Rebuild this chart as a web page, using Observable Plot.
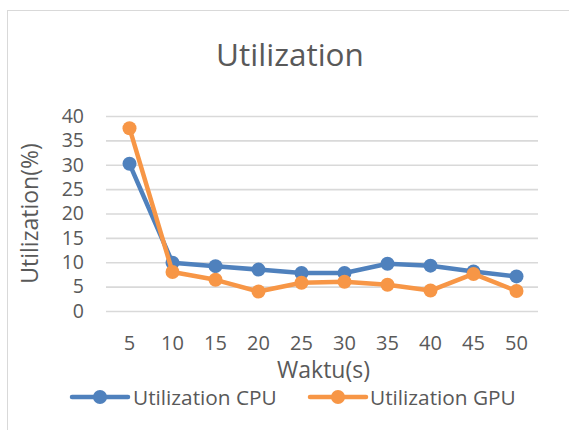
<!DOCTYPE html>
<html>
<head>
<meta charset="utf-8">
<script src="https://cdn.jsdelivr.net/npm/d3@7"></script>
<script src="https://cdn.jsdelivr.net/npm/@observablehq/plot@0.6"></script>
<style>
  html, body { margin: 0; padding: 0; background: #fff; }
  #wrap { position: relative; width: 569px; height: 430px; overflow: hidden; background: #fff; }
  #frame { position: absolute; left: 7px; top: 10px; width: 600px; height: 460px;
           border-left: 1.5px solid #d9d9d9; border-top: 1.5px solid #d9d9d9; box-sizing: border-box; }
  #wrap svg { position: absolute; left: 0; top: 0; }
</style>
</head>
<body>
<div id="wrap"><div id="frame"></div></div>
<script>
const times = [5, 10, 15, 20, 25, 30, 35, 40, 45, 50];
const cpuValues = [30.3, 10.0, 9.3, 8.6, 7.9, 7.9, 9.8, 9.4, 8.2, 7.2];
const gpuValues = [37.6, 8.1, 6.5, 4.1, 5.9, 6.1, 5.5, 4.3, 7.7, 4.2];
const seriesNames = ["Utilization CPU", "Utilization GPU"];
const seriesColors = ["#4F81BD", "#F79646"];
const yTicks = [0, 5, 10, 15, 20, 25, 30, 35, 40];
const titleText = "Utilization";
const xLabel = "Waktu(s)";
const yLabel = "Utilization(%)";

const cpu = times.map((t, i) => ({t, v: cpuValues[i], s: seriesNames[0]}));
const gpu = times.map((t, i) => ({t, v: gpuValues[i], s: seriesNames[1]}));

const ink = "#595959";
const font = "'Open Sans', sans-serif";

const chart = Plot.plot({
  width: 569,
  height: 430,
  marginLeft: 106,
  marginRight: 31,
  marginTop: 116,
  marginBottom: 119,
  style: {fontFamily: font, fontSize: "20px", color: ink, background: "transparent", overflow: "visible"},
  x: {type: "point", domain: times, padding: 0.5, label: null},
  y: {domain: [0, 40], ticks: yTicks, label: null},
  color: {domain: seriesNames, range: seriesColors},
  marks: [
    Plot.gridY(yTicks, {stroke: "#d9d9d9", strokeOpacity: 1, strokeWidth: 1.6}),
    Plot.axisX({tickSize: 0, tickPadding: 24, label: null, fontSize: 20}),
    Plot.axisY(yTicks, {tickSize: 0, tickPadding: 22.5, label: null, fontSize: 19.5}),
    Plot.line(cpu, {x: "t", y: "v", stroke: "s", strokeWidth: 4.5, strokeLinejoin: "round", strokeLinecap: "round"}),
    Plot.dot(cpu, {x: "t", y: "v", fill: "s", r: 7}),
    Plot.line(gpu, {x: "t", y: "v", stroke: "s", strokeWidth: 4.5, strokeLinejoin: "round", strokeLinecap: "round"}),
    Plot.dot(gpu, {x: "t", y: "v", fill: "s", r: 7})
  ]
});
document.getElementById("wrap").appendChild(chart);

// Overlay for title, axis titles and legend
const ov = d3.select("#wrap").append("svg")
  .attr("width", 569).attr("height", 430)
  .style("font-family", font).style("pointer-events", "none");

ov.append("text").attr("x", 290).attr("y", 65.5)
  .attr("text-anchor", "middle").attr("fill", ink)
  .style("font-size", "31.5px").text(titleText);

ov.append("text").attr("transform", "translate(38,213.5) rotate(-90)")
  .attr("text-anchor", "middle").attr("fill", ink)
  .style("font-size", "23px").text(yLabel);

ov.append("text").attr("x", 323.5).attr("y", 378)
  .attr("text-anchor", "middle").attr("fill", ink)
  .style("font-size", "23px").text(xLabel);

const legendItems = [
  {x0: 72, x1: 128, tx: 133},
  {x0: 310, x1: 366, tx: 370}
];
seriesNames.forEach((name, i) => {
  const it = legendItems[i];
  const g = ov.append("g");
  g.append("line").attr("x1", it.x0).attr("x2", it.x1).attr("y1", 397).attr("y2", 397)
    .attr("stroke", seriesColors[i]).attr("stroke-width", 4.5).attr("stroke-linecap", "round");
  g.append("circle").attr("cx", (it.x0 + it.x1) / 2).attr("cy", 397).attr("r", 7)
    .attr("fill", seriesColors[i]);
  g.append("text").attr("x", it.tx).attr("y", 405).attr("fill", ink)
    .style("font-size", "20.8px").text(name);
});
</script>
</body>
</html>
